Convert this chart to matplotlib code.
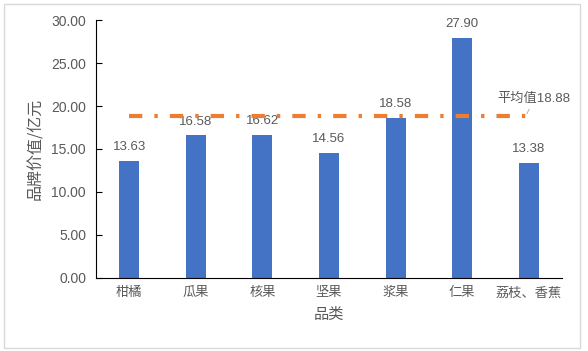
import matplotlib
matplotlib.use("Agg")
import matplotlib.pyplot as plt
from matplotlib.patches import Rectangle

plt.rcParams['font.family'] = ['Liberation Sans', 'Noto Sans CJK SC', 'DejaVu Sans']

categories = ["柑橘", "瓜果", "核果", "坚果", "浆果", "仁果", "荔枝、香蕉"]
values = [13.63, 16.58, 16.62, 14.56, 18.58, 27.90, 13.38]
average = 18.88
avg_label = "平均值18.88"
yticks = [0, 5, 10, 15, 20, 25, 30]

gray = "#595959"
cjk = ['Noto Sans CJK SC', 'DejaVu Sans']
fig = plt.figure(figsize=(5.88, 3.51), dpi=100)
ax = fig.add_axes([0.163, 0.208, 0.793, 0.735])

x = list(range(len(categories)))
ax.bar(x, values, width=0.3, color="#4472C4", zorder=2)
for xi, v in zip(x, values):
    ax.text(xi, v + 0.9, f"{v:.2f}", ha="center", va="bottom", fontsize=9.5, color=gray)

ln, = ax.plot([x[0], x[-1]], [average, average], color="#ED7D31", lw=3,
              dashes=[3.2, 2.9, 0.8, 2.9], zorder=3, solid_capstyle="butt")
ln.set_dash_capstyle("butt")
ax.annotate(avg_label, xy=(5.97, average + 0.2), xytext=(6.08, 20.1),
            fontsize=9.5, color=gray, ha="center", va="bottom",
            arrowprops=dict(arrowstyle="-", color="#A6A6A6", lw=0.6,
                            shrinkA=1, shrinkB=0))

ax.set_xlim(-0.5, 6.5)
ax.set_ylim(0, 30)
ax.set_yticks(yticks)
ax.set_yticklabels([f"{t:.2f}" for t in yticks], fontsize=10, color=gray)
ax.set_xticks(x)
ax.set_xticklabels(categories, fontsize=9.5, color=gray, family=cjk)
ax.tick_params(axis="x", length=0, pad=6)
ax.tick_params(axis="y", length=4, direction="in", color="black", pad=7)
for s in ["top", "right"]:
    ax.spines[s].set_visible(False)
ax.spines["left"].set_color("black")
ax.spines["bottom"].set_color("black")
ax.set_ylabel("品牌价值/亿元", fontsize=11.5, color=gray, labelpad=5, family=cjk)
ax.set_xlabel("品类", fontsize=11, color=gray, labelpad=5, family=cjk)

fig.patches.append(Rectangle((4 / 588, 3 / 351), 576 / 588, 344 / 351,
                             transform=fig.transFigure,
                             fill=False, edgecolor="#D9D9D9", lw=1))
fig.savefig("out.png", dpi=100)
